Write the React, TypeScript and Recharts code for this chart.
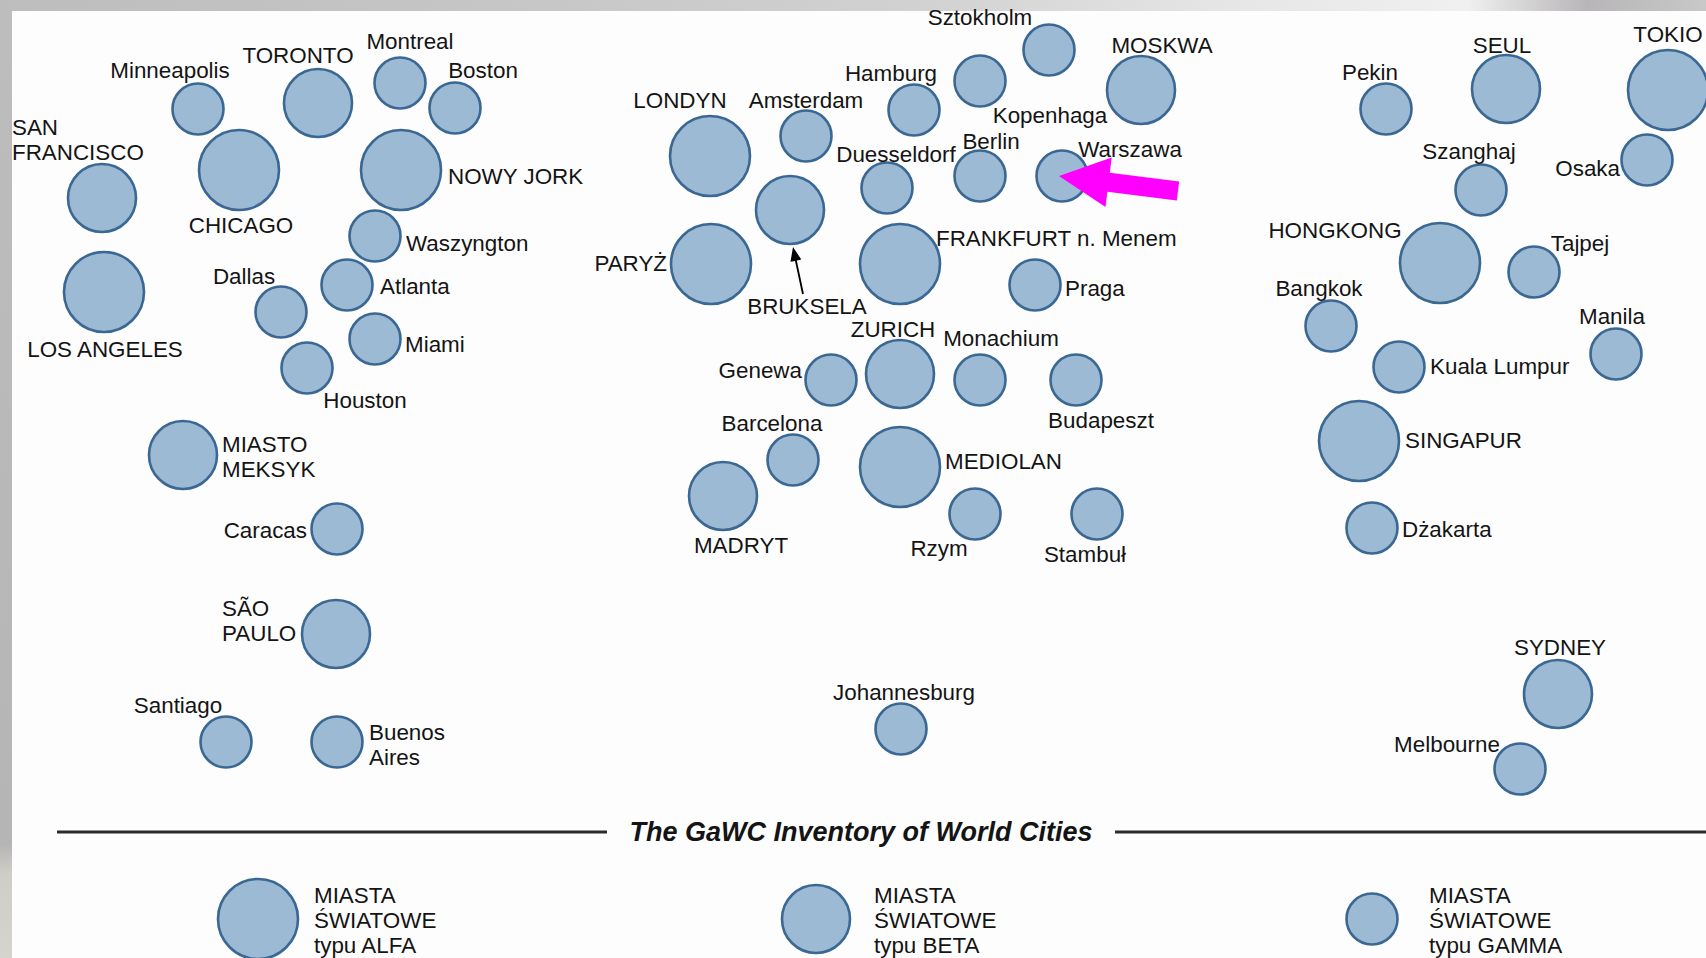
import React from 'react';
import { ScatterChart, Scatter, XAxis, YAxis, Customized } from 'recharts';

const W = 1706;
const H = 958;

// Map positions (reference map units) of GaWC world cities, by tier
const alphaCities = [
  { name: 'LOS ANGELES', x: 104, y: 292 },
  { name: 'CHICAGO', x: 239, y: 170 },
  { name: 'NOWY JORK', x: 401, y: 170 },
  { name: 'LONDYN', x: 710, y: 156 },
  { name: 'PARYŻ', x: 711, y: 264 },
  { name: 'FRANKFURT n. Menem', x: 900, y: 264 },
  { name: 'MEDIOLAN', x: 900, y: 467 },
  { name: 'TOKIO', x: 1668, y: 90 },
  { name: 'HONGKONG', x: 1440, y: 263 },
  { name: 'SINGAPUR', x: 1359, y: 441 },
];

const betaCities = [
  { name: 'SAN\nFRANCISCO', x: 102, y: 198 },
  { name: 'TORONTO', x: 318, y: 103 },
  { name: 'MIASTO\nMEKSYK', x: 183, y: 455 },
  { name: 'SÃO\nPAULO', x: 336, y: 634 },
  { name: 'BRUKSELA', x: 790, y: 210 },
  { name: 'MOSKWA', x: 1141, y: 90 },
  { name: 'ZURICH', x: 900, y: 374 },
  { name: 'MADRYT', x: 723, y: 496 },
  { name: 'SEUL', x: 1506, y: 89 },
  { name: 'SYDNEY', x: 1558, y: 694 },
];

const gammaCities = [
  { name: 'Minneapolis', x: 198, y: 109 },
  { name: 'Montreal', x: 400, y: 83 },
  { name: 'Boston', x: 455, y: 108 },
  { name: 'Waszyngton', x: 375, y: 236 },
  { name: 'Dallas', x: 281, y: 312 },
  { name: 'Atlanta', x: 347, y: 285 },
  { name: 'Miami', x: 375, y: 339 },
  { name: 'Houston', x: 307, y: 368 },
  { name: 'Caracas', x: 337, y: 529 },
  { name: 'Santiago', x: 226, y: 742 },
  { name: 'Buenos\nAires', x: 337, y: 742 },
  { name: 'Amsterdam', x: 806, y: 136 },
  { name: 'Hamburg', x: 914, y: 110 },
  { name: 'Sztokholm', x: 1049, y: 50 },
  { name: 'Kopenhaga', x: 980, y: 81 },
  { name: 'Duesseldorf', x: 887, y: 188 },
  { name: 'Berlin', x: 980, y: 176 },
  { name: 'Warszawa', x: 1062, y: 176 },
  { name: 'Praga', x: 1035, y: 285 },
  { name: 'Genewa', x: 831, y: 380 },
  { name: 'Monachium', x: 980, y: 380 },
  { name: 'Budapeszt', x: 1076, y: 380 },
  { name: 'Barcelona', x: 793, y: 460 },
  { name: 'Rzym', x: 975, y: 514 },
  { name: 'Stambuł', x: 1097, y: 514 },
  { name: 'Johannesburg', x: 901, y: 729 },
  { name: 'Pekin', x: 1386, y: 109 },
  { name: 'Szanghaj', x: 1481, y: 190 },
  { name: 'Osaka', x: 1647, y: 160 },
  { name: 'Tajpej', x: 1534, y: 272 },
  { name: 'Bangkok', x: 1331, y: 326 },
  { name: 'Manila', x: 1616, y: 354 },
  { name: 'Kuala Lumpur', x: 1399, y: 367 },
  { name: 'Dżakarta', x: 1372, y: 528 },
  { name: 'Melbourne', x: 1520, y: 769 },
];

const chartTitle = 'The GaWC Inventory of World Cities';
const legendLabels = [
  'MIASTA\nŚWIATOWE\ntypu ALFA',
  'MIASTA\nŚWIATOWE\ntypu BETA',
  'MIASTA\nŚWIATOWE\ntypu GAMMA',
];

// ---------- styles / layout ----------
const FONT = '"Liberation Sans", Arial, Helvetica, sans-serif';
const FILL = '#9dbad5';
const STROKE = '#3b6893';
const TEXT = '#141414';
const RADIUS = { alpha: 40, beta: 34, gamma: 25.5 };
const LINE_H = 25;
const FS = 22.4;

type Anchor = 'start' | 'middle' | 'end';
// label placement relative to the circle centre: [anchor, dx, dy of first line]
const LABEL_PLACE: Record<string, [Anchor, number, number]> = {
  'LOS ANGELES': ['middle', 1, 57],
  'CHICAGO': ['middle', 2, 55],
  'NOWY JORK': ['start', 47, 6],
  'LONDYN': ['middle', -30, -56],
  'PARYŻ': ['end', -44, -1],
  'FRANKFURT n. Menem': ['start', 36, -26],
  'MEDIOLAN': ['start', 45, -6],
  'TOKIO': ['middle', 0, -56],
  'HONGKONG': ['middle', -105, -33],
  'SINGAPUR': ['start', 46, -1],
  'SAN\nFRANCISCO': ['start', -90, -71],
  'TORONTO': ['middle', -20, -48],
  'MIASTO\nMEKSYK': ['start', 39, -11],
  'SÃO\nPAULO': ['start', -114, -26],
  'BRUKSELA': ['middle', 17, 96],
  'MOSKWA': ['middle', 21, -45],
  'ZURICH': ['middle', -7, -45],
  'MADRYT': ['middle', 18, 49],
  'SEUL': ['middle', -4, -44],
  'SYDNEY': ['middle', 2, -47],
  'Minneapolis': ['middle', -28, -39],
  'Montreal': ['middle', 10, -42],
  'Boston': ['middle', 28, -38],
  'Waszyngton': ['start', 31, 7],
  'Dallas': ['middle', -37, -36],
  'Atlanta': ['start', 33, 1],
  'Miami': ['start', 30, 5],
  'Houston': ['middle', 58, 32],
  'Caracas': ['end', -30, 1],
  'Santiago': ['middle', -48, -37],
  'Buenos\nAires': ['start', 32, -10],
  'Amsterdam': ['middle', 0, -36],
  'Hamburg': ['middle', -23, -37],
  'Sztokholm': ['middle', -69, -33],
  'Kopenhaga': ['middle', 70, 34],
  'Duesseldorf': ['middle', 9, -34],
  'Berlin': ['middle', 11, -35],
  'Warszawa': ['middle', 68, -27],
  'Praga': ['start', 30, 3],
  'Genewa': ['end', -29, -10],
  'Monachium': ['middle', 21, -42],
  'Budapeszt': ['middle', 25, 40],
  'Barcelona': ['middle', -21, -37],
  'Rzym': ['middle', -36, 34],
  'Stambuł': ['middle', -12, 40],
  'Johannesburg': ['middle', 3, -37],
  'Pekin': ['middle', -16, -37],
  'Szanghaj': ['middle', -12, -39],
  'Osaka': ['end', -27, 8],
  'Tajpej': ['middle', 46, -29],
  'Bangkok': ['middle', -12, -38],
  'Manila': ['middle', -4, -38],
  'Kuala Lumpur': ['start', 31, -1],
  'Dżakarta': ['start', 30, 1],
  'Melbourne': ['middle', -73, -25],
};

// arrows drawn relative to a city's circle centre
const ARROWS: Record<string, { from: [number, number]; to: [number, number]; color: string; shaft: number; headL: number; headW: number }> = {
  'BRUKSELA': { from: [13, 84], to: [3, 37], color: '#000000', shaft: 1.8, headL: 14, headW: 11 },
  'Warszawa': { from: [116, 15], to: [-3, 0], color: '#ff00ff', shaft: 19, headL: 50, headW: 50 },
};

function arrowPoints(x1: number, y1: number, x2: number, y2: number, shaft: number, headL: number, headW: number) {
  const dx = x2 - x1;
  const dy = y2 - y1;
  const len = Math.sqrt(dx * dx + dy * dy);
  const ux = dx / len;
  const uy = dy / len;
  const px = -uy;
  const py = ux;
  const bx = x2 - ux * headL;
  const by = y2 - uy * headL;
  const s = shaft / 2;
  const h = headW / 2;
  const pts = [
    [x1 + px * s, y1 + py * s],
    [bx + px * s, by + py * s],
    [bx + px * h, by + py * h],
    [x2, y2],
    [bx - px * h, by - py * h],
    [bx - px * s, by - py * s],
    [x1 - px * s, y1 - py * s],
  ];
  return pts.map((p) => `${p[0].toFixed(1)},${p[1].toFixed(1)}`).join(' ');
}

function MultiText({ x, y, text, anchor, size = FS, weight = 'normal', style = 'normal' }: any) {
  const lines = String(text).split('\n');
  return (
    <text
      x={x}
      y={y}
      textAnchor={anchor}
      dominantBaseline="central"
      fontFamily={FONT}
      fontSize={size}
      fontWeight={weight}
      fontStyle={style}
      fill={TEXT}
    >
      {lines.map((l, i) => (
        <tspan key={i} x={x} dy={i === 0 ? 0 : LINE_H}>
          {l}
        </tspan>
      ))}
    </text>
  );
}

const makeShape = (r: number) => (props: any) => {
  const { cx, cy, payload } = props;
  if (cx == null || cy == null) return <g />;
  const name = payload.name as string;
  const place = LABEL_PLACE[name] || ['middle', 0, -r - 12];
  const arrow = ARROWS[name];
  return (
    <g>
      <circle cx={cx} cy={cy} r={r} fill={FILL} stroke={STROKE} strokeWidth={2.6} />
      <MultiText x={cx + place[1]} y={cy + place[2]} text={name} anchor={place[0]} />
      {arrow ? (
        <polygon
          points={arrowPoints(cx + arrow.from[0], cy + arrow.from[1], cx + arrow.to[0], cy + arrow.to[1], arrow.shaft, arrow.headL, arrow.headW)}
          fill={arrow.color}
        />
      ) : null}
    </g>
  );
};

const legendRadii = [RADIUS.alpha, RADIUS.beta, RADIUS.gamma];
const legendCx = [258, 816, 1372];
const legendTx = [314, 874, 1429];

function Overlay() {
  return (
    <g>
      <line x1={57} y1={832} x2={607} y2={832} stroke="#2b2b2b" strokeWidth={3} />
      <line x1={1115} y1={832} x2={1706} y2={832} stroke="#2b2b2b" strokeWidth={3} />
      <MultiText x={861} y={832} text={chartTitle} anchor="middle" size={27} weight="bold" style="italic" />
      {legendLabels.map((lab, i) => (
        <g key={i}>
          <circle cx={legendCx[i]} cy={919} r={legendRadii[i]} fill={FILL} stroke={STROKE} strokeWidth={2.6} />
          <MultiText x={legendTx[i]} y={895} text={lab} anchor="start" />
        </g>
      ))}
    </g>
  );
}

export default function App() {
  return (
    <div
      style={{
        position: 'absolute',
        left: 0,
        top: 0,
        width: W,
        height: H,
        overflow: 'hidden',
        background: '#b9b9b9',
      }}
    >
      <div
        style={{
          position: 'absolute',
          left: 0,
          top: 0,
          width: W,
          height: 11,
          background:
            'linear-gradient(to right, #bdbdbd 0%, #c6c6c6 30%, #d2d2d2 55%, #e6e6e6 72%, #f1f0f0 86%, #b8b6b8 93%, #c8c8c8 100%)',
        }}
      />
      <div
        style={{
          position: 'absolute',
          left: 0,
          top: 11,
          width: 12,
          height: H - 11,
          background: 'linear-gradient(to bottom, #bdbdbd 0%, #b5b5b5 88%, #cfcdc8 91%, #d6d4cf 100%)',
        }}
      />
      <div style={{ position: 'absolute', left: 12, top: 11, width: W - 12, height: H - 11, background: '#fdfdfd' }} />
      <div style={{ position: 'absolute', left: 0, top: 0 }}>
        <ScatterChart width={W} height={H} margin={{ top: 0, right: 0, bottom: 0, left: 0 }}>
          <XAxis type="number" dataKey="x" domain={[0, W]} hide allowDataOverflow />
          <YAxis type="number" dataKey="y" domain={[0, H]} reversed hide allowDataOverflow />
          <Scatter name="alfa" data={alphaCities} shape={makeShape(RADIUS.alpha)} isAnimationActive={false} />
          <Scatter name="beta" data={betaCities} shape={makeShape(RADIUS.beta)} isAnimationActive={false} />
          <Scatter name="gamma" data={gammaCities} shape={makeShape(RADIUS.gamma)} isAnimationActive={false} />
          <Customized component={Overlay} />
        </ScatterChart>
      </div>
    </div>
  );
}
